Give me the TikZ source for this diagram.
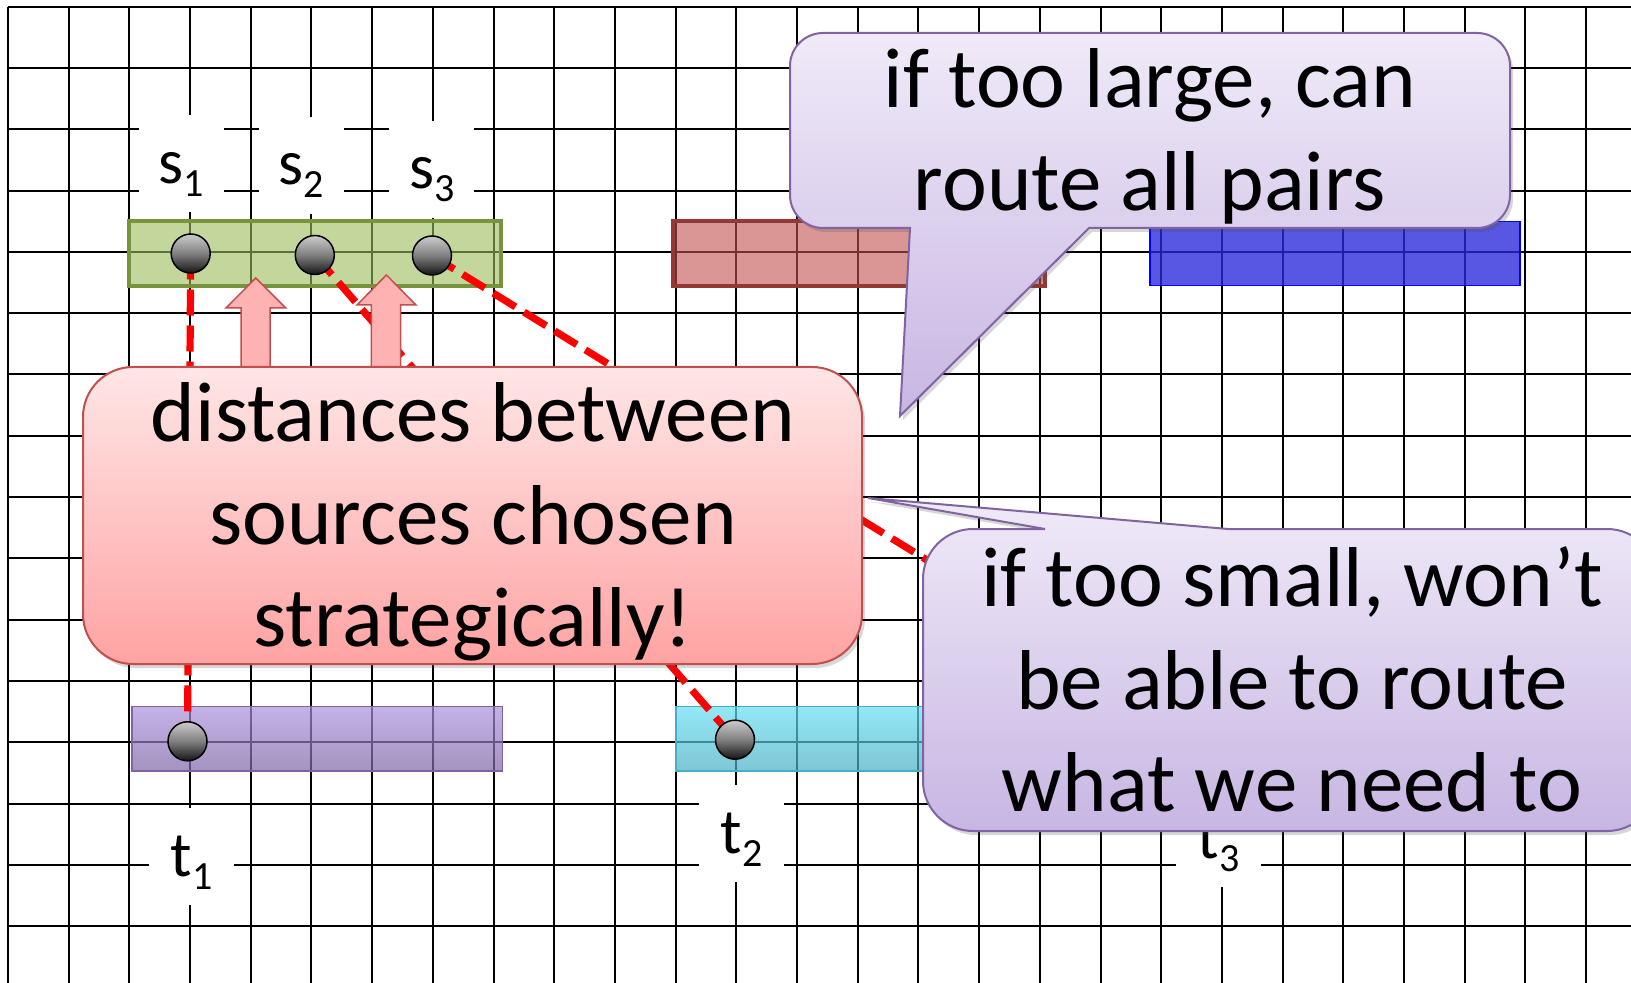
\documentclass[tikz,border=0pt]{standalone}
\usepackage{fontspec}
\setmainfont{Carlito}
\usetikzlibrary{shadows}
\definecolor{greenfill}{RGB}{155,187,89}
\definecolor{greenline}{RGB}{119,147,60}
\definecolor{redfill}{RGB}{192,80,77}
\definecolor{redline}{RGB}{149,55,53}
\definecolor{bluefill}{RGB}{40,40,220}
\definecolor{blueline}{RGB}{0,0,255}
\definecolor{purptop}{RGB}{172,145,222}
\definecolor{purpbot}{RGB}{126,102,165}
\definecolor{purpline}{RGB}{128,100,162}
\definecolor{cyantop}{RGB}{101,222,243}
\definecolor{cyanbot}{RGB}{72,175,196}
\definecolor{cyanline}{RGB}{75,172,198}
\definecolor{pinktop}{RGB}{255,230,230}
\definecolor{pinkbot}{RGB}{255,163,163}
\definecolor{pinkline}{RGB}{192,80,77}
\definecolor{arrowfill}{RGB}{255,178,178}
\definecolor{calltop}{RGB}{240,234,248}
\definecolor{callbot}{RGB}{199,182,227}
\definecolor{dashred}{RGB}{255,0,0}
\newcommand{\lsub}[1]{\raisebox{-6.5pt}{\fontsize{20}{20}\selectfont #1}}
\begin{document}
\begin{tikzpicture}[x=0.5pt,y=-0.5pt,
  gridline/.style={line width=1pt, black},
  lbl/.style={fill=white, inner sep=0pt, text height=34pt, text depth=14.5pt,
    minimum width=42.5pt, anchor=base, font=\fontsize{32}{38}\selectfont},
  conn/.style={dashred, line width=3.6pt, dash pattern=on 13pt off 5pt},
  dot/.style={circle, draw=black, line width=0.75pt, minimum size=19.5pt, inner sep=0pt,
    top color=black!20, bottom color=black!92, middle color=black!50},
  bigtxt/.style={anchor=base, inner sep=0pt, font=\fontsize{42.5}{51.3}\selectfont},
  softshadow/.style={drop shadow={shadow xshift=1.5pt, shadow yshift=-2pt, opacity=0.22, fill=black!70}},
  blockarrow/.style={fill=arrowfill, draw=pinkline, line width=0.75pt},
  callout/.style={top color=calltop, bottom color=callbot, draw=purpline, line width=1pt, softshadow},
  pinkbox/.style={rounded corners=25pt, minimum width=389.5pt, minimum height=148.5pt,
    top color=pinktop, bottom color=pinkbot, draw=pinkline, line width=1pt, softshadow}
]
\useasboundingbox (0,0) rectangle (1631,983);
\clip (0,0) rectangle (1631,983);
\fill[white] (0,0) rectangle (1631,983);

% grid
\foreach \i in {0,...,26} \draw[gridline] ({7.9+60.7*\i},6.7) -- ({7.9+60.7*\i},983);
\foreach \j in {0,...,15} \draw[gridline] (7.9,{6.7+61.3*\j}) -- (1631,{6.7+61.3*\j});

% coloured strips
\filldraw[fill=greenfill, fill opacity=0.6, draw=greenline, line width=2pt] (128.6,220.7) rectangle (501,286);
\filldraw[fill=redfill, fill opacity=0.6, draw=redline, line width=2pt] (672.5,220.7) rectangle (1045,286);
\filldraw[fill=bluefill, fill opacity=0.78, draw=blueline, line width=0.75pt] (1150,221.7) rectangle (1520,285.7);
\shade[top color=purptop, bottom color=purpbot, opacity=0.7] (132,706.7) rectangle (502.5,771);
\draw[purpline, line width=0.75pt] (132,706.7) rectangle (502.5,771);
\shade[top color=cyantop, bottom color=cyanbot, opacity=0.7] (676,706.7) rectangle (1046,771);
\draw[cyanline, line width=0.75pt] (676,706.7) rectangle (1046,771);

% labels
\node[lbl] (s1lab) at (181,183.3) {s\lsub{1}};
\node[lbl] (s2lab) at (301,185) {s\lsub{2}};
\node[lbl] (s3lab) at (431.8,189) {s\lsub{3}};
\node[lbl] (t1lab) at (191.5,876) {t\lsub{1}};
\node[lbl] (t2lab) at (741.5,853) {t\lsub{2}};
\node[lbl] (t3lab) at (1218.5,858) {t\lsub{3}};

% terminals and connectors
\coordinate (S1) at (190.7,253.5);
\coordinate (S2) at (314.8,255);
\coordinate (S3) at (432,255.5);
\coordinate (T1) at (187.5,741.3);
\coordinate (T2) at (735,739.7);
\coordinate (T3) at (1221,741);
\draw[conn] (S1) -- (T1);
\draw[conn] (S2) -- (T2);
\draw[conn] (S3) -- (T3);
\node[dot] (s1dot) at (S1) {};
\node[dot] (s2dot) at (S2) {};
\node[dot] (s3dot) at (S3) {};
\node[dot] (t1dot) at (T1) {};
\node[dot] (t2dot) at (T2) {};

% block arrows
\path[blockarrow] (241,380) -- (241,308) -- (226,308) -- (255.7,278) -- (285.7,308) -- (270,308) -- (270,380) -- cycle;
\path[blockarrow] (371.4,380) -- (371.4,305) -- (357,305) -- (386.4,275) -- (416,305) -- (400.7,305) -- (400.7,380) -- cycle;

% pink box
\node[pinkbox] (pink) at (472.5,515.5) {};
\node[bigtxt] (pinktxt) at (473,441.7) {\begin{tabular}[t]{@{}c@{}}distances between\\ sources chosen\\ strategically!\end{tabular}};

% top callout
\path[callout] (823,33) -- (1477,33) arc[start angle=-90, end angle=0, radius=33]
  -- (1510,195) arc[start angle=0, end angle=90, radius=33]
  -- (1089,228) -- (900,416) -- (910,228)
  -- (823,228) arc[start angle=90, end angle=180, radius=33]
  -- (790,66) arc[start angle=180, end angle=270, radius=33] -- cycle;
\node[bigtxt] (toptxt) at (1150,108) {\begin{tabular}[t]{@{}c@{}}if too large, can\\ route all pairs\end{tabular}};

% bottom callout
\path[callout] (973,529) -- (1045,529) -- (868,498) -- (1228,529)
  -- (1607,529) arc[start angle=-90, end angle=0, radius=50]
  -- (1657,781) arc[start angle=0, end angle=90, radius=50]
  -- (973,831) arc[start angle=90, end angle=180, radius=50]
  -- (923,579) arc[start angle=180, end angle=270, radius=50] -- cycle;
\node[bigtxt] (bottxt) at (1292,606.7) {\begin{tabular}[t]{@{}c@{}}if too small, won’t\\ be able to route\\ what we need to\end{tabular}};
\end{tikzpicture}
\end{document}
